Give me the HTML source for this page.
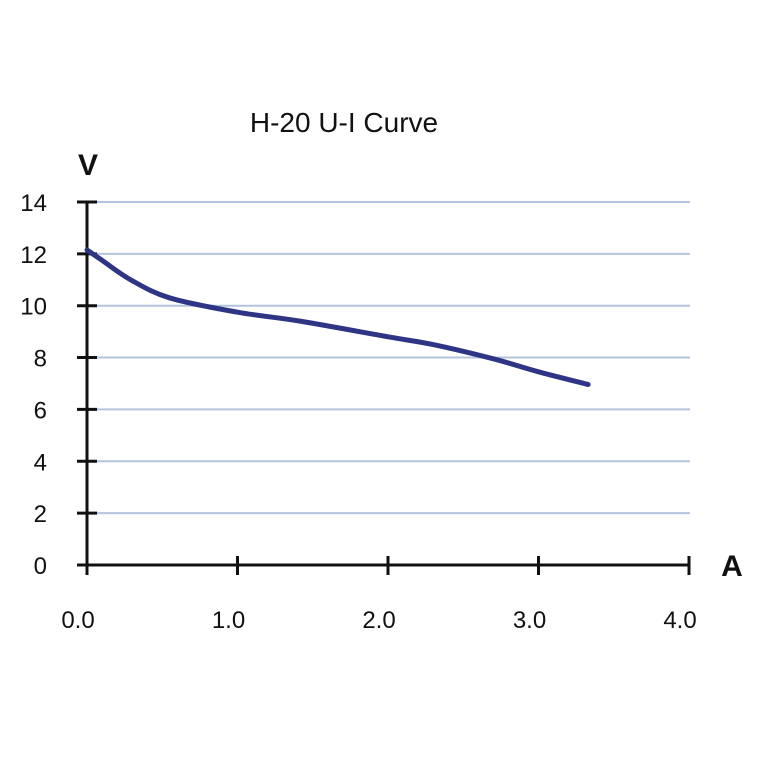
<!DOCTYPE html>
<html><head><meta charset="utf-8"><style>
body{margin:0;background:#fff}
svg text{font-family:"Liberation Sans",sans-serif}
</style></head><body>
<svg id="chart" width="760" height="760" viewBox="0 0 760 760">
<rect width="760" height="760" fill="#fff"/>
<text x="344" y="132" font-size="28" text-anchor="middle" fill="#111">H-20 U-I Curve</text>
<text x="88" y="175" font-size="30" font-weight="bold" text-anchor="middle" fill="#111">V</text>
<text x="732" y="576" font-size="30" font-weight="bold" text-anchor="middle" fill="#111">A</text>
<g id="grid"></g><g id="axes"></g><g id="series"></g>
</svg>
<script>
const xTicks=[0,1,2,3,4];
const xTickLabels=["0.0","1.0","2.0","3.0","4.0"];
const yTicks=[0,2,4,6,8,10,12,14];
const currentA=[0,0.1,0.29,0.55,1.0,1.42,2.0,2.3,2.7,3.0,3.33];
const voltageV=[12.15,11.75,11.0,10.3,9.75,9.4,8.8,8.5,7.95,7.45,6.96];
const NS="http://www.w3.org/2000/svg";
const X=v=>87+v*150.5;
const Y=v=>565-v*25.93;
function mk(p,t,a){const e=document.createElementNS(NS,t);for(const k in a)e.setAttribute(k,a[k]);p.appendChild(e);return e;}
const grid=document.getElementById('grid'),axes=document.getElementById('axes'),series=document.getElementById('series');
yTicks.forEach(v=>{
 if(v>0){const g=mk(grid,'line',{x1:97,x2:690,y1:Y(v),y2:Y(v),stroke:'#b4c4de','stroke-width':2});
 
 }
 const t=mk(axes,'line',{x1:77,x2:97,y1:Y(v),y2:Y(v),stroke:'#111','stroke-width':3});
 
 
 const l=mk(axes,'text',{x:47,y:Y(v)+9,'font-size':24,'text-anchor':'end',fill:'#111'});
 l.textContent=v;
 
 
});
const ya=mk(axes,'line',{x1:87,x2:87,y1:Y(14),y2:575,stroke:'#111','stroke-width':3});


const xa=mk(axes,'line',{x1:77,x2:689,y1:565,y2:565,stroke:'#111','stroke-width':3});


xTicks.forEach((v,i)=>{
 const t=mk(axes,'line',{x1:X(v),x2:X(v),y1:556,y2:575,stroke:'#111','stroke-width':3});
 
 
 const l=mk(axes,'text',{x:X(v)-9,y:628,'font-size':24,'text-anchor':'middle',fill:'#111'});
 l.textContent=xTickLabels[i];
 
 
});
const pts=currentA.map((a,i)=>[X(a),Y(voltageV[i])]);
let d=`M${pts[0][0]},${pts[0][1]}`;
for(let i=0;i<pts.length-1;i++){
 const p0=pts[i-1]||pts[i],p1=pts[i],p2=pts[i+1],p3=pts[i+2]||p2;
 d+=` C${p1[0]+(p2[0]-p0[0])/6},${p1[1]+(p2[1]-p0[1])/6} ${p2[0]-(p3[0]-p1[0])/6},${p2[1]-(p3[1]-p1[1])/6} ${p2[0]},${p2[1]}`;
}
const line=mk(series,'path',{d:d,fill:'none',stroke:'#2e3585','stroke-width':5,'stroke-linecap':'round'});


</script>
</body></html>
